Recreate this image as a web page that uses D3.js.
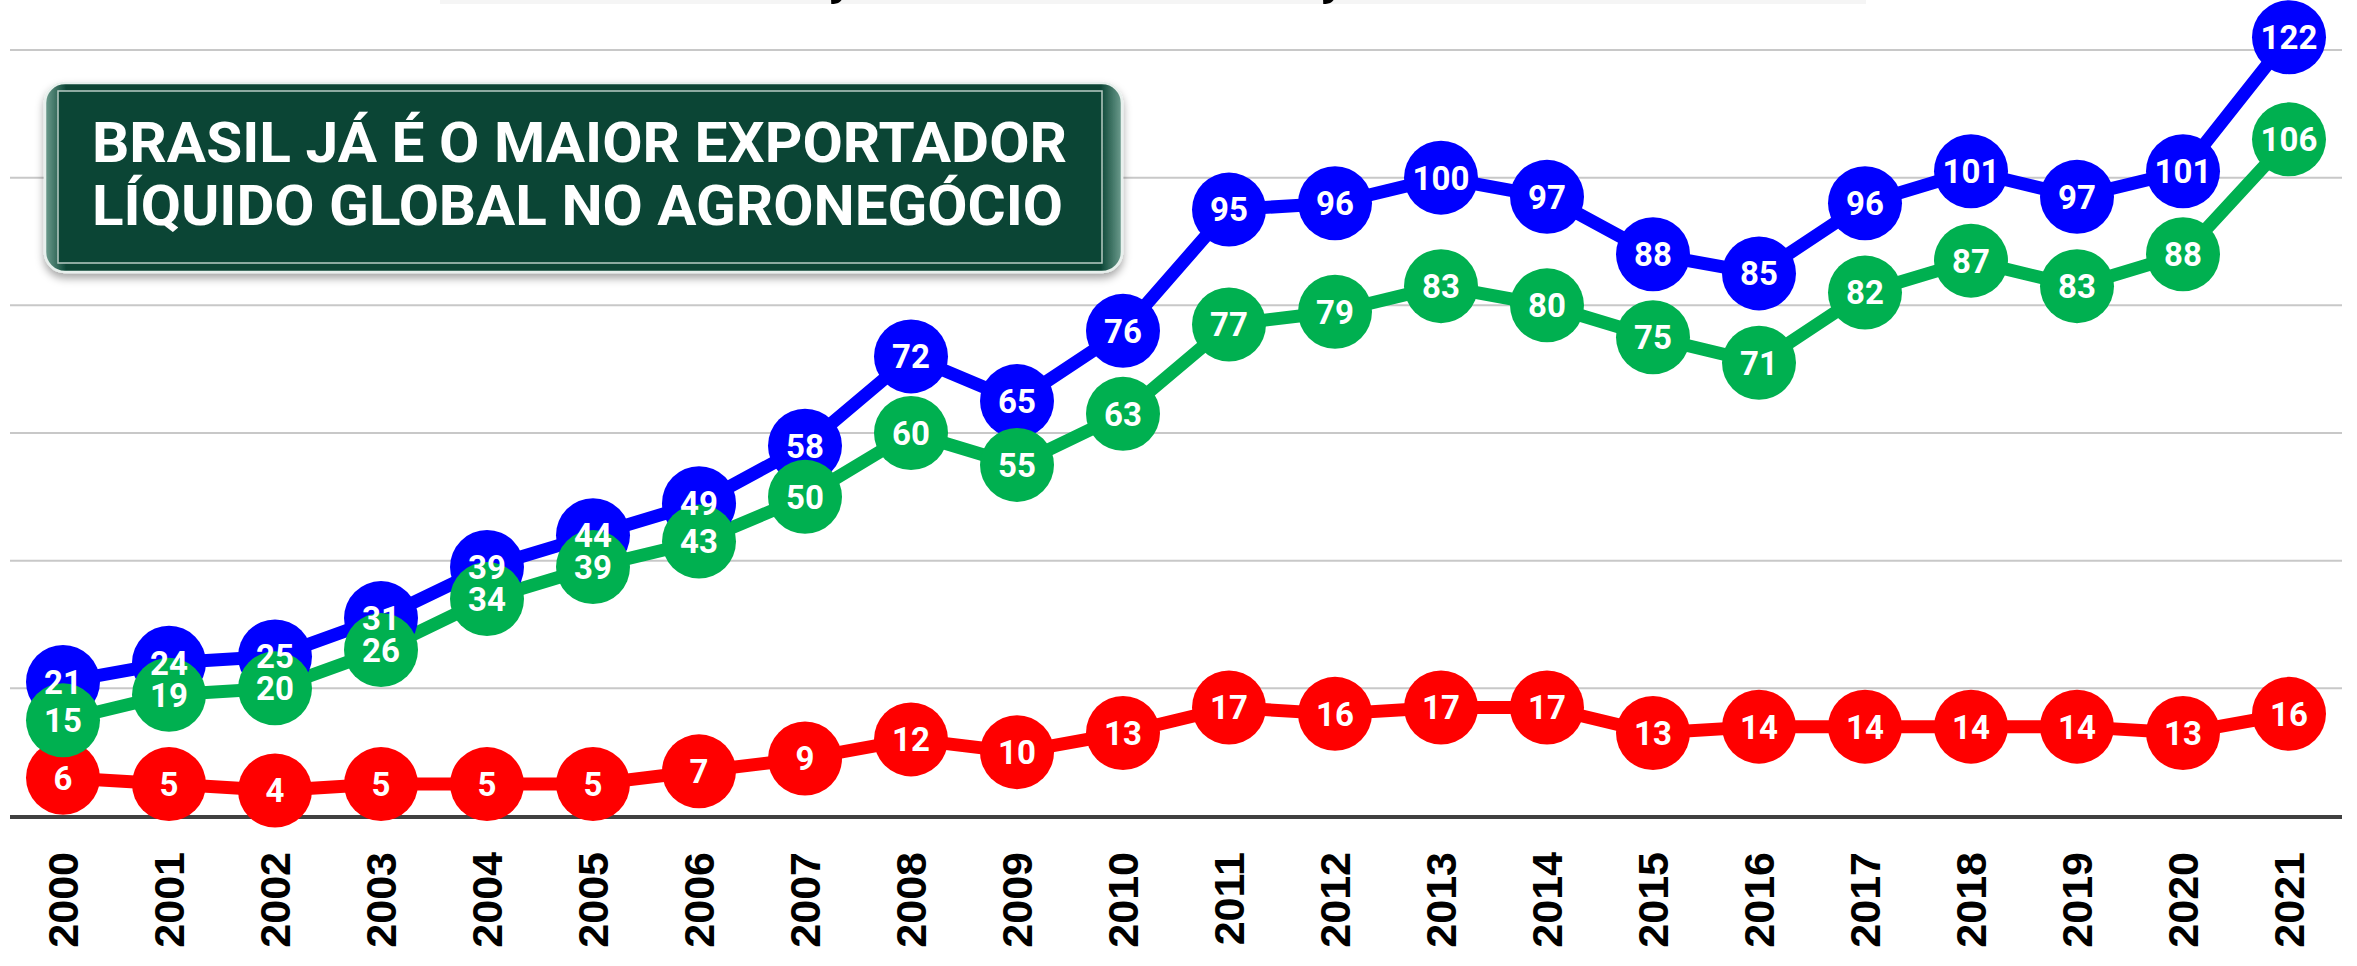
<!DOCTYPE html>
<html>
<head>
<meta charset="utf-8">
<script src="https://cdn.jsdelivr.net/npm/d3@7"></script>
<style>
  html, body { margin: 0; padding: 0; background: #fff; }
  svg { display: block; }
</style>
</head>
<body>
<div id="chart"></div>
<script>
// anos e valores (US$ bilhões)
var years = ['2000','2001','2002','2003','2004','2005','2006','2007','2008','2009','2010',
             '2011','2012','2013','2014','2015','2016','2017','2018','2019','2020','2021'];
var exportacoes = [21, 24, 25, 31, 39, 44, 49, 58, 72, 65, 76, 95, 96, 100, 97, 88, 85, 96, 101, 97, 101, 122];
var saldo       = [15, 19, 20, 26, 34, 39, 43, 50, 60, 55, 63, 77, 79, 83, 80, 75, 71, 82, 87, 83, 88, 106];
var importacoes = [6, 5, 4, 5, 5, 5, 7, 9, 12, 10, 13, 17, 16, 17, 17, 13, 14, 14, 14, 14, 13, 16];
var gridTicks = [20, 40, 60, 80, 100, 120];
var titleLines = ['BRASIL JÁ É O MAIOR EXPORTADOR', 'LÍQUIDO GLOBAL NO AGRONEGÓCIO'];

var width = 2357, height = 966;

var svg = d3.select('#chart').append('svg')
  .attr('width', width)
  .attr('height', height);

svg.append('rect').attr('width', width).attr('height', height).attr('fill', '#fff');

var x = d3.scaleBand().domain(years).range([10, 2342]);
var y = d3.scaleLinear().domain([0, 120]).range([816, 50]);
var cx = d => x(d) + x.bandwidth() / 2;

// titulo cortado no topo
svg.append('rect').attr('x', 440).attr('y', 0).attr('width', 1426).attr('height', 4).attr('fill', '#f5f5f5');
var topTitle = svg.append('text')
  .attr('font-family', 'Roboto, sans-serif')
  .attr('font-weight', 700)
  .attr('font-size', 60)
  .attr('fill', '#000')
  .text('EXPORTAÇÃO E IMPORTAÇÃO');
// posiciona as cedilhas onde aparecem na imagem
(function() {
  var s = 'EXPORTAÇÃO E IMPORTAÇÃO', i1 = s.indexOf('Ç'), i2 = s.lastIndexOf('Ç');
  var n = topTitle.node();
  var a = n.getExtentOfChar(i1), b = n.getExtentOfChar(i2);
  var d = (b.x + b.width / 2) - (a.x + a.width / 2);
  var fs = 60 * 492 / d;
  topTitle.attr('font-size', fs);
  a = n.getExtentOfChar(i1);
  topTitle.attr('x', 834 - (a.x + a.width / 2)).attr('y', -0.17 * fs);
})();

// grade
svg.append('g').selectAll('line')
  .data(gridTicks)
  .enter().append('line')
  .attr('x1', 10).attr('x2', 2342)
  .attr('y1', d => y(d)).attr('y2', d => y(d))
  .style('stroke', '#c8c8c8')
  .style('stroke-width', 2);

svg.append('line')
  .attr('x1', 10).attr('x2', 2342)
  .attr('y1', y(0) + 1).attr('y2', y(0) + 1)
  .style('stroke', '#404040')
  .style('stroke-width', 4);

// rótulos dos anos
svg.append('g').selectAll('text')
  .data(years)
  .enter().append('text')
  .attr('transform', d => 'translate(' + cx(d) + ',852) rotate(-90)')
  .attr('text-anchor', 'end')
  .attr('dy', '0.36em')
  .attr('font-family', '"Liberation Sans", Arial, sans-serif')
  .attr('font-weight', 700)
  .attr('font-size', 43)
  .attr('fill', '#000')
  .text(d => d);

// caixa do título
var defs = svg.append('defs');
var sh = defs.append('filter').attr('id', 'shadow').attr('x', '-10%').attr('y', '-20%').attr('width', '120%').attr('height', '150%');
sh.append('feDropShadow').attr('dx', 0).attr('dy', 5).attr('stdDeviation', 4)
  .attr('flood-color', '#000').attr('flood-opacity', 0.35);
var gr = defs.append('linearGradient').attr('id', 'rim').attr('x1', 0).attr('y1', 0).attr('x2', 1).attr('y2', 0);
gr.append('stop').attr('offset', '0%').attr('stop-color', '#6f9e90');
gr.append('stop').attr('offset', '2%').attr('stop-color', '#0b4535');
gr.append('stop').attr('offset', '98%').attr('stop-color', '#0b4535');
gr.append('stop').attr('offset', '100%').attr('stop-color', '#6f9e90');

var box = svg.append('g');
box.append('rect')
  .attr('x', 45).attr('y', 83).attr('width', 1077).attr('height', 189)
  .attr('rx', 20).attr('ry', 20)
  .attr('fill', 'url(#rim)')
  .attr('stroke', '#e8f0ed').attr('stroke-width', 2.5)
  .attr('filter', 'url(#shadow)');
box.append('rect')
  .attr('x', 58).attr('y', 91).attr('width', 1044).attr('height', 172)
  .attr('fill', '#0b4535')
  .attr('stroke', '#b9ccc5').attr('stroke-width', 1.5);
box.selectAll('text.t')
  .data(titleLines)
  .enter().append('text')
  .attr('class', 't')
  .attr('x', 92)
  .attr('y', (d, i) => 162 + i * 63)
  .attr('font-family', 'Roboto, sans-serif')
  .attr('font-weight', 700)
  .attr('font-size', 56)
  .attr('fill', '#fff')
  .attr('textLength', (d, i) => i === 0 ? 975 : 971)
  .attr('lengthAdjust', 'spacingAndGlyphs')
  .text(d => d);

// séries
var series = [
  {name: 'importacoes', values: importacoes, color: '#ff0000'},
  {name: 'exportacoes', values: exportacoes, color: '#0000ff'},
  {name: 'saldo', values: saldo, color: '#00b050'}
];

var line = d3.line()
  .x((d, i) => cx(years[i]))
  .y(d => y(d));

svg.append('g').selectAll('path')
  .data(series)
  .enter().append('path')
  .attr('d', d => line(d.values))
  .style('fill', 'none')
  .style('stroke', d => d.color)
  .style('stroke-width', 13)
  .style('stroke-linejoin', 'round');

series.forEach(function(s) {
  svg.append('g').selectAll('circle')
    .data(s.values)
    .enter().append('circle')
    .attr('cx', (d, i) => cx(years[i]))
    .attr('cy', d => y(d))
    .attr('r', 37)
    .style('fill', s.color);
});

series.forEach(function(s) {
  svg.append('g').selectAll('text')
    .data(s.values)
    .enter().append('text')
    .attr('x', (d, i) => cx(years[i]))
    .attr('y', d => y(d))
    .attr('dy', '0.36em')
    .attr('text-anchor', 'middle')
    .attr('font-family', 'Roboto, sans-serif')
    .attr('font-weight', 700)
    .attr('font-size', 33)
    .attr('fill', '#fff')
    .text(d => d);
});
</script>
</body>
</html>
